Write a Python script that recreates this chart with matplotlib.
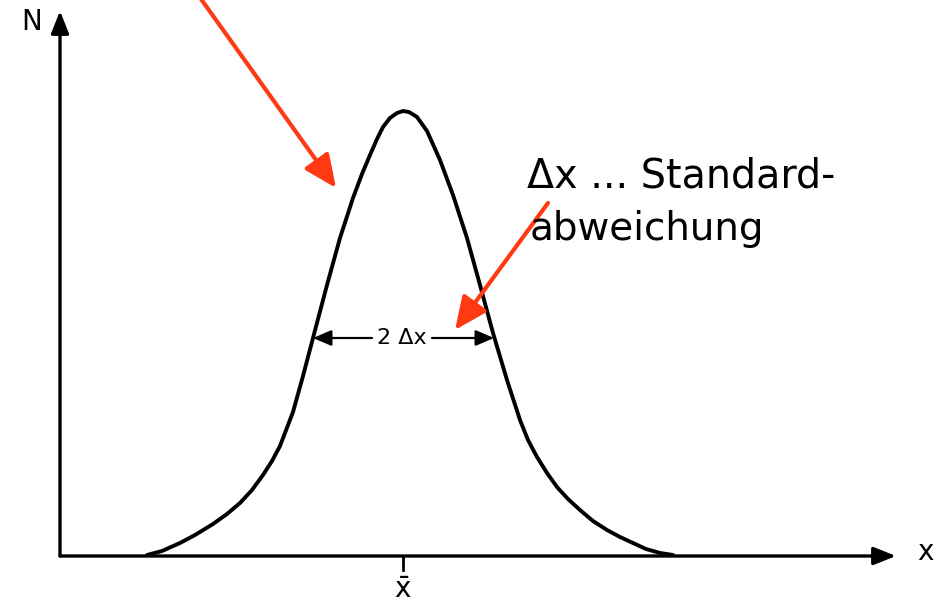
import matplotlib.pyplot as plt

# curve (x offset from the N axis, height above the x axis, in px)
curve_x = [87, 102, 120, 135, 153, 167, 180, 192, 203, 212,
           220, 233, 243, 253, 267, 280, 293, 302, 310, 317,
           323, 330, 337, 343, 349, 357, 367, 380, 393, 407,
           420, 433, 447, 460, 468, 477, 487, 497, 508, 520,
           533, 547, 560, 573, 586, 600, 613]
curve_n = [1, 5, 13, 21, 32, 42, 53, 66, 81, 95,
           110, 144, 180, 218, 271, 318, 358, 382, 401, 417,
           429, 438, 443, 445, 444, 439, 425, 396, 361, 318,
           271, 223, 176, 136, 116, 99, 83, 69, 57, 46,
           35, 26, 19, 13, 7, 3, 1]

x_mean = 343
half_width = [253, 434]   # where the 2 dx arrow meets the curve
width_level = 218
red = "#ff3a12"

fig = plt.figure(figsize=(9.41, 6.08), dpi=100)
ax = fig.add_axes([0, 0, 1, 1])
ax.set_xlim(-60, 881)
ax.set_ylim(-52, 556)
ax.axis("off")

# axes with arrow heads
axis_arrow = dict(arrowstyle="-|>,head_length=0.75,head_width=0.3",
                  lw=2.4, color="k", shrinkA=0, shrinkB=0, mutation_scale=18)
ax.annotate("", xy=(836, 0), xytext=(0, 0), arrowprops=axis_arrow)
ax.annotate("", xy=(0, 545), xytext=(0, 0), arrowprops=axis_arrow)
ax.text(-28, 534, "N", fontsize=20, ha="center", va="center")
ax.text(865, 4, "x", fontsize=20, ha="center", va="center")

# the curve
ax.plot(curve_x, curve_n, color="k", lw=2.8, solid_capstyle="round",
        solid_joinstyle="round")

# mean tick
ax.plot([x_mean, x_mean], [0, -14], color="k", lw=2)
ax.text(x_mean, -34, r"$\mathsf{\bar{x}}$", fontsize=20, ha="center", va="center")

# 2 dx width marker
small_arrow = dict(arrowstyle="-|>,head_length=0.7,head_width=0.3",
                   lw=1.6, color="k", shrinkA=0, shrinkB=0, mutation_scale=16)
ax.annotate("", xy=(half_width[0], width_level), xytext=(x_mean - 31, width_level),
            arrowprops=small_arrow)
ax.annotate("", xy=(half_width[1], width_level), xytext=(x_mean + 29, width_level),
            arrowprops=small_arrow)
ax.text(x_mean - 1, width_level, "2 Δx", fontsize=16, ha="center", va="center")

# red pointers
red_arrow = dict(arrowstyle="-|>,head_length=1.0,head_width=0.45",
                 lw=3, color=red, shrinkA=0, shrinkB=0, mutation_scale=20)
ax.annotate("", xy=(276, 368), xytext=(136, 564), annotation_clip=False,
            arrowprops=red_arrow)
ax.annotate("", xy=(395, 226), xytext=(488, 353), arrowprops=red_arrow)

ax.text(467, 368, "Δx ... Standard-", fontsize=28.5, ha="left", va="baseline")
ax.text(470, 316, "abweichung", fontsize=28, ha="left", va="baseline")

fig.savefig("out.png", dpi=100)
